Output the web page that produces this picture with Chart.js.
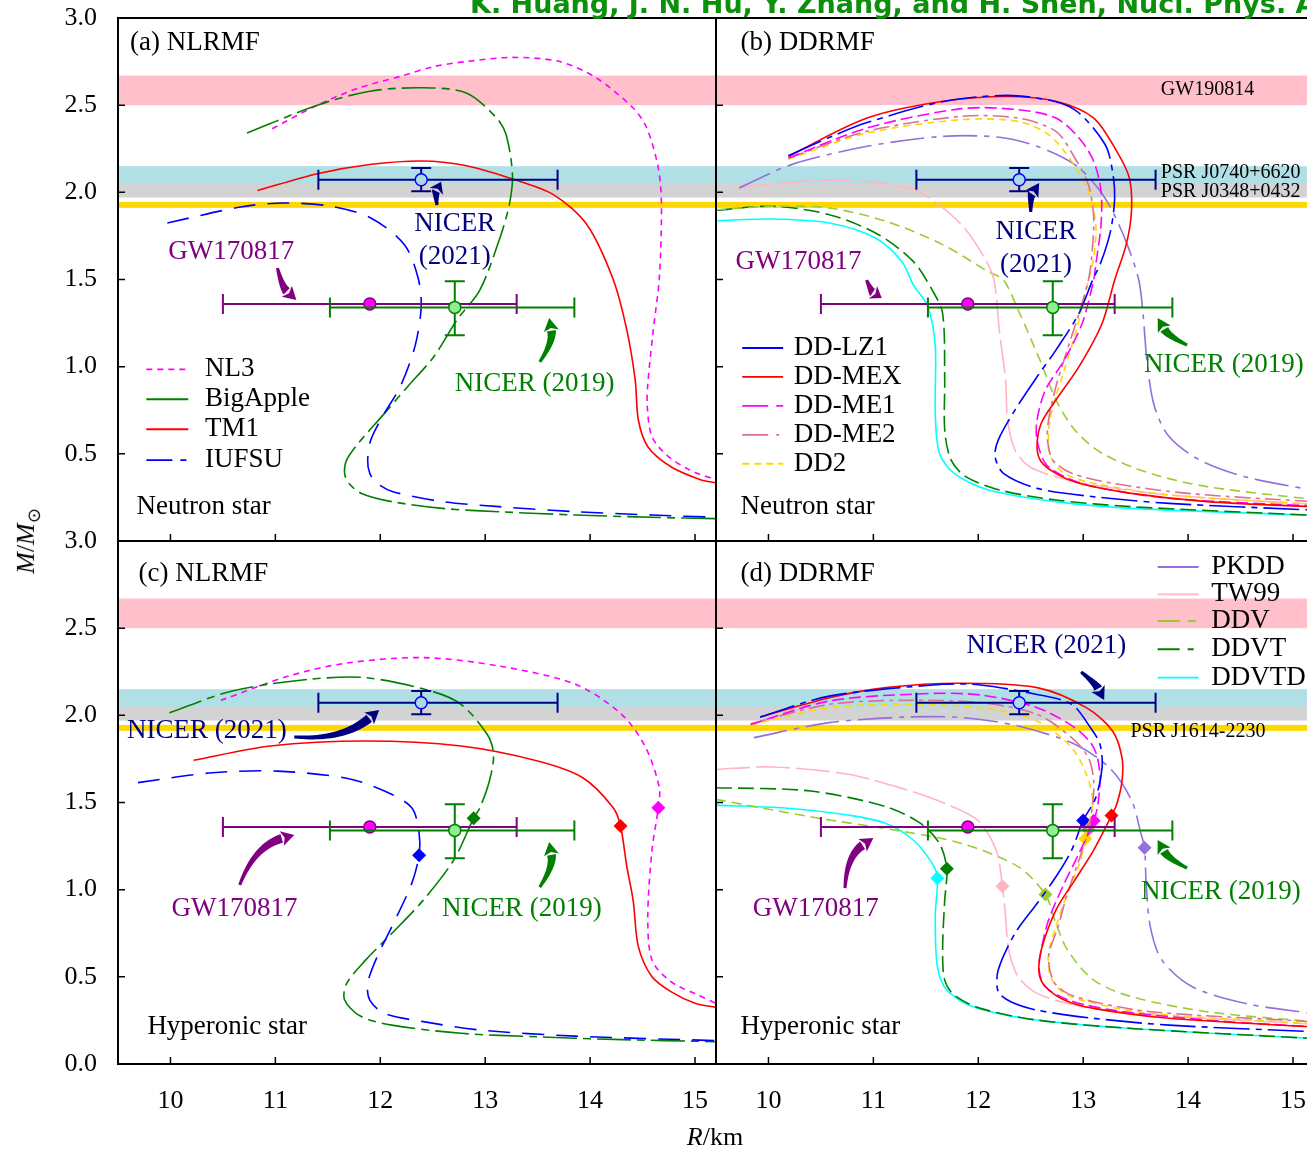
<!DOCTYPE html>
<html>
<head>
<meta charset="utf-8">
<script src="https://cdn.jsdelivr.net/npm/chart.js@4.4.0/dist/chart.umd.min.js"></script>
<style>
  body { margin:0; width:1307px; height:1152px; overflow:hidden; background:#fff; position:relative; }
  canvas { position:absolute; }
  #cA { left:0; top:0; }
  #cB { left:716px; top:0; }
  #cC { left:0; top:520px; }
  #cD { left:716px; top:520px; }
  #ref { position:absolute; left:470px; top:-12px; font:bold 27px 'DejaVu Sans', sans-serif; color:#0a900a; white-space:nowrap; }
  #ylab { position:absolute; left:-22px; top:524px; width:100px; text-align:center; font:26px 'Liberation Serif', serif; transform:rotate(-90deg); white-space:nowrap; }
  #ylab sub { font-size:18px; }
  #xlab { position:absolute; left:665px; top:1122px; width:100px; text-align:center; font:26px 'Liberation Serif', serif; }
</style>
</head>
<body>
<canvas id="cA" width="716" height="541"></canvas>
<canvas id="cB" width="598" height="541"></canvas>
<canvas id="cC" width="716" height="632"></canvas>
<canvas id="cD" width="598" height="632"></canvas>
<div id="ref">K. Huang, J. N. Hu, Y. Zhang, and H. Shen, Nucl. Phys. A</div>
<div id="ylab"><i>M</i>/<i>M</i><sub>⊙</sub></div>
<div id="xlab"><i>R</i>/km</div>
<script>
// axes
const xTickValues = [10, 11, 12, 13, 14, 15];
const yTickValues = [0, 0.5, 1.0, 1.5, 2.0, 2.5, 3.0];

// observational mass bands (M/Msun)
const bandNames = ['GW190814', 'PSR J0740+6620', 'PSR J0348+0432', 'PSR J1614-2230'];
const bandLo = [2.50, 2.01, 1.97, 1.911];
const bandHi = [2.67, 2.15, 2.05, 1.945];

// radius / mass constraints: NICER (2021), NICER (2019), GW170817
const obsR = [12.39, 12.71, 11.9];
const obsRminus = [0.98, 1.19, 1.4];
const obsRplus = [1.30, 1.14, 1.4];
const obsM = [2.072, 1.34, 1.36];
const obsMminus = [0.066, 0.16, 0];
const obsMplus = [0.067, 0.15, 0];

// M-R relations, neutron stars [R (km), M (Msun)]
const nl3NS = [[10.97,2.365],[11.40,2.50],[11.8,2.60],[12.19,2.665],[12.5,2.72],[12.82,2.75],[13.26,2.774],[13.71,2.75],[14.06,2.656],[14.41,2.484],[14.54,2.369],[14.65,2.14],[14.68,1.93],[14.66,1.51],[14.60,1.2],[14.55,0.90],[14.545,0.77],[14.59,0.598],[14.73,0.493],[14.95,0.407],[15.2,0.35]];
const bigAppleNS = [[10.73,2.34],[11.40,2.50],[11.9,2.58],[12.4,2.60],[12.82,2.57],[13.11,2.426],[13.20,2.33],[13.26,2.10],[13.23,1.93],[13.14,1.738],[12.95,1.44],[12.73,1.267],[12.51,1.057],[12.26,0.885],[12.04,0.732],[11.79,0.56],[11.68,0.465],[11.66,0.388],[11.70,0.331],[11.82,0.273],[12.11,0.226],[12.59,0.187],[13.13,0.168],[13.86,0.149],[14.59,0.136],[15.2,0.128]];
const tm1NS = [[10.83,2.01],[11.40,2.107],[11.9,2.16],[12.4,2.18],[12.8,2.155],[13.23,2.082],[13.65,1.987],[13.97,1.814],[14.22,1.50],[14.35,1.21],[14.43,0.923],[14.46,0.694],[14.55,0.541],[14.77,0.426],[15.06,0.35],[15.2,0.334]];
const iufsuNS = [[9.97,1.824],[10.67,1.916],[11.085,1.939],[11.53,1.92],[11.91,1.853],[12.23,1.70],[12.36,1.51],[12.39,1.344],[12.33,1.115],[12.19,0.885],[12.04,0.733],[11.91,0.58],[11.88,0.465],[11.90,0.388],[11.97,0.331],[12.12,0.283],[12.59,0.226],[13.13,0.197],[13.86,0.168],[14.59,0.149],[15.2,0.136]];
const ddlz1NS = [[10.19,2.21],[10.6,2.32],[10.94,2.40],[11.66,2.52],[12.27,2.556],[12.74,2.52],[12.96,2.455],[13.21,2.273],[13.28,2.12],[13.30,1.967],[13.26,1.776],[13.17,1.60],[13.09,1.497],[12.96,1.306],[12.74,1.095],[12.56,0.942],[12.35,0.751],[12.19,0.579],[12.16,0.484],[12.24,0.388],[12.56,0.302],[13.10,0.254],[13.82,0.216],[15.2,0.177]];
const ddmexNS = [[10.19,2.207],[10.94,2.426],[11.66,2.522],[12.27,2.55],[12.74,2.522],[13.10,2.426],[13.32,2.235],[13.44,2.082],[13.46,1.89],[13.41,1.70],[13.30,1.497],[13.18,1.248],[12.96,1.0],[12.74,0.809],[12.60,0.675],[12.56,0.541],[12.60,0.455],[12.74,0.388],[12.96,0.331],[13.46,0.273],[14.18,0.226],[15.2,0.196]];
const ddme1NS = [[10.19,2.197],[10.94,2.369],[11.84,2.48],[12.38,2.474],[12.74,2.426],[12.96,2.312],[13.10,2.178],[13.17,2.006],[13.17,1.815],[13.12,1.585],[13.10,1.497],[12.99,1.248],[12.82,1.038],[12.64,0.866],[12.56,0.694],[12.56,0.58],[12.64,0.445],[12.82,0.369],[13.10,0.312],[13.82,0.245],[15.2,0.2]];
const ddme2NS = [[10.19,2.197],[10.94,2.35],[11.84,2.436],[12.38,2.426],[12.74,2.35],[12.92,2.197],[13.05,2.044],[13.10,1.853],[13.08,1.623],[13.05,1.497],[12.96,1.306],[12.85,1.10],[12.74,0.885],[12.67,0.694],[12.66,0.58],[12.71,0.465],[12.89,0.388],[13.28,0.331],[14.0,0.273],[15.2,0.225]];
const dd2NS = [[10.19,2.19],[10.94,2.34],[11.84,2.417],[12.38,2.407],[12.67,2.331],[12.89,2.178],[13.05,2.006],[13.12,1.815],[13.10,1.623],[13.05,1.497],[12.96,1.267],[12.82,0.98],[12.71,0.77],[12.67,0.617],[12.69,0.484],[12.82,0.388],[13.10,0.331],[13.82,0.264],[15.2,0.21]];
const pkddNS = [[9.72,2.025],[10.22,2.159],[10.94,2.264],[11.66,2.321],[12.20,2.316],[12.56,2.264],[12.92,2.159],[13.14,2.025],[13.28,1.891],[13.42,1.70],[13.53,1.497],[13.57,1.306],[13.61,1.02],[13.68,0.77],[13.82,0.598],[14.11,0.465],[14.54,0.369],[15.2,0.29]];
const tw99NS = [[9.72,2.025],[10.04,2.05],[10.58,2.07],[11.12,2.05],[11.48,1.987],[11.84,1.815],[12.06,1.623],[12.15,1.497],[12.20,1.21],[12.26,0.923],[12.28,0.694],[12.35,0.522],[12.49,0.426],[12.74,0.369],[13.10,0.321],[13.82,0.264],[15.2,0.21]];
const ddvNS = [[9.5,1.90],[10.04,1.92],[10.58,1.91],[11.12,1.834],[11.66,1.70],[12.09,1.547],[12.24,1.497],[12.38,1.325],[12.60,1.02],[12.74,0.809],[12.92,0.637],[13.18,0.503],[13.64,0.388],[14.18,0.312],[15.2,0.238]];
const ddvtNS = [[9.5,1.897],[10.04,1.92],[10.58,1.872],[11.05,1.757],[11.38,1.604],[11.56,1.44],[11.66,1.306],[11.68,0.923],[11.68,0.637],[11.74,0.465],[11.88,0.369],[12.20,0.293],[12.74,0.235],[13.46,0.197],[15.2,0.147]];
const ddvtdNS = [[9.5,1.837],[10.04,1.847],[10.58,1.824],[11.02,1.738],[11.27,1.604],[11.38,1.47],[11.52,1.344],[11.59,1.115],[11.59,0.732],[11.63,0.503],[11.77,0.388],[12.10,0.293],[12.74,0.226],[13.46,0.187],[15.2,0.147]];

// M-R relations, hyperonic stars
const nl3HS = [[10.48,2.086],[11.13,2.226],[11.68,2.30],[12.41,2.331],[13.13,2.283],[13.86,2.178],[14.30,2.006],[14.53,1.815],[14.66,1.585],[14.65,1.47],[14.59,1.227],[14.55,0.845],[14.59,0.596],[14.77,0.472],[15.03,0.395],[15.2,0.348]];
const bigAppleHS = [[9.99,2.015],[10.59,2.14],[11.31,2.206],[11.86,2.216],[12.48,2.14],[12.77,2.063],[13.02,1.89],[13.08,1.776],[13.04,1.623],[12.95,1.47],[12.89,1.41],[12.70,1.17],[12.41,0.94],[12.11,0.749],[11.86,0.596],[11.68,0.462],[11.66,0.367],[11.81,0.275],[12.11,0.223],[12.77,0.176],[13.50,0.156],[14.22,0.141],[15.2,0.128]];
const tm1HS = [[10.22,1.742],[10.95,1.824],[11.86,1.853],[12.77,1.824],[13.50,1.738],[13.93,1.642],[14.22,1.47],[14.29,1.365],[14.35,1.132],[14.41,0.94],[14.46,0.673],[14.59,0.5],[14.77,0.415],[15.0,0.348],[15.2,0.325]];
const iufsuHS = [[9.69,1.614],[10.40,1.671],[11.02,1.68],[11.68,1.639],[12.04,1.566],[12.30,1.47],[12.37,1.323],[12.37,1.198],[12.30,1.036],[12.11,0.787],[11.97,0.615],[11.88,0.462],[11.90,0.367],[12.04,0.29],[12.41,0.243],[12.95,0.195],[13.86,0.16],[15.2,0.134]];
const ddlz1HS = [[9.92,1.99],[10.58,2.11],[11.66,2.178],[12.02,2.174],[12.56,2.12],[12.89,2.063],[13.07,1.929],[13.16,1.834],[13.18,1.70],[13.12,1.528],[13.0,1.397],[12.89,1.227],[12.74,1.074],[12.56,0.921],[12.35,0.749],[12.19,0.539],[12.19,0.415],[12.31,0.357],[12.56,0.309],[13.10,0.262],[13.82,0.223],[15.2,0.185]];
const ddmexHS = [[9.92,1.99],[10.58,2.101],[11.12,2.159],[11.81,2.184],[12.56,2.159],[13.03,2.044],[13.28,1.91],[13.37,1.757],[13.37,1.623],[13.32,1.49],[13.27,1.425],[13.10,1.227],[12.92,1.055],[12.74,0.883],[12.60,0.654],[12.58,0.52],[12.64,0.443],[12.82,0.367],[13.10,0.319],[13.82,0.262],[15.2,0.212]];
const ddme1HS = [[9.83,1.948],[10.58,2.082],[11.48,2.124],[12.02,2.117],[12.56,2.044],[12.92,1.929],[13.10,1.815],[13.16,1.662],[13.14,1.49],[13.1,1.395],[12.96,1.208],[12.82,1.036],[12.67,0.826],[12.60,0.654],[12.58,0.539],[12.64,0.443],[12.86,0.367],[13.28,0.309],[14.18,0.252],[15.2,0.212]];
const ddme2HS = [[9.83,1.952],[10.58,2.063],[11.30,2.086],[12.02,2.073],[12.56,2.006],[12.89,1.872],[13.05,1.757],[13.10,1.623],[13.09,1.49],[13.05,1.345],[12.96,1.17],[12.85,0.979],[12.76,0.787],[12.67,0.615],[12.72,0.472],[12.85,0.405],[13.10,0.357],[13.64,0.3],[15.2,0.242]];
const dd2HS = [[9.83,1.945],[10.58,2.044],[11.30,2.063],[12.02,2.044],[12.56,1.967],[12.89,1.815],[13.03,1.662],[13.09,1.509],[13.02,1.292],[12.97,1.16],[12.85,0.979],[12.74,0.787],[12.67,0.634],[12.69,0.5],[12.82,0.405],[13.10,0.348],[13.64,0.29],[15.2,0.232]];
const pkddHS = [[9.86,1.872],[10.58,1.958],[11.30,1.99],[11.84,1.987],[12.38,1.939],[12.92,1.834],[13.25,1.70],[13.46,1.514],[13.55,1.323],[13.585,1.24],[13.60,1.036],[13.64,0.787],[13.75,0.596],[14.04,0.443],[14.54,0.348],[15.2,0.288]];
const tw99HS = [[9.5,1.69],[10.04,1.704],[10.76,1.662],[11.30,1.576],[11.70,1.49],[11.99,1.4],[12.17,1.227],[12.23,1.02],[12.26,0.845],[12.29,0.654],[12.38,0.501],[12.56,0.405],[12.92,0.338],[13.46,0.29],[15.2,0.228]];
const ddvHS = [[9.5,1.518],[10.40,1.418],[11.30,1.332],[11.84,1.265],[12.38,1.132],[12.64,0.972],[12.74,0.807],[12.85,0.654],[13.10,0.481],[13.46,0.386],[14.18,0.3],[15.2,0.242]];
const ddvtHS = [[9.5,1.585],[10.40,1.566],[11.12,1.476],[11.45,1.38],[11.63,1.265],[11.70,1.12],[11.68,0.94],[11.66,0.654],[11.68,0.481],[11.77,0.395],[12.02,0.319],[12.56,0.252],[13.46,0.204],[15.2,0.146]];
const ddvtdHS = [[9.5,1.485],[10.22,1.466],[10.76,1.428],[11.12,1.38],[11.38,1.285],[11.56,1.151],[11.61,1.066],[11.59,0.845],[11.61,0.558],[11.70,0.424],[11.95,0.329],[12.56,0.252],[13.46,0.204],[15.2,0.146]];

// hyperon onset points
const onsetModels = ['NL3','BigApple','TM1','IUFSU','DD-LZ1','DD-MEX','DD-ME1','DD-ME2','DD2','PKDD','TW99','DDV','DDVT','DDVTD'];
const onsetR = [14.65, 12.89, 14.29, 12.37, 13.0, 13.27, 13.1, 13.05, 13.02, 13.585, 12.23, 12.64, 11.70, 11.61];
const onsetM = [1.47, 1.41, 1.365, 1.198, 1.397, 1.425, 1.395, 1.345, 1.292, 1.24, 1.02, 0.972, 1.12, 1.066];

// line styles per parameter set: [colour, dash]
const lineStyle = {
  'NL3': ['#ff00ff', [6, 5]],
  'BigApple': ['#008000', [34, 6, 8, 6]],
  'TM1': ['#ff0000', []],
  'IUFSU': ['#0000ff', [22, 12]],
  'DD-LZ1': ['#0000ff', [36, 6, 6, 6]],
  'DD-MEX': ['#ff0000', []],
  'DD-ME1': ['#ff00ff', [12, 5]],
  'DD-ME2': ['#db7093', [16, 5, 4, 5]],
  'DD2': ['#ffd700', [7, 5]],
  'PKDD': ['#9370db', [34, 7, 5, 7]],
  'TW99': ['#ffb6c1', [34, 6]],
  'DDV': ['#9acd32', [10, 6]],
  'DDVT': ['#008000', [16, 6]],
  'DDVTD': ['#00ffff', []]
};
const purple = '#800080', navy = '#000080', green = '#008000';
const bandColors = ['#ffc0cb', '#b0e0e6', '#d3d3d3', '#ffd700'];
const obsBar = [navy, green, purple];
const obsFill = ['#add8e6', '#90ee90', '#ff00ff'];
const obsEdge = ['#0000ff', '#008000', '#800080'];
const serif = "'Liberation Serif', 'Times New Roman', serif";

function curve(name, pts) {
  const [c, dash] = lineStyle[name];
  return { label: name, data: pts.map(p => ({ x: p[0], y: p[1] })), showLine: true, borderColor: c,
    borderDash: dash, borderWidth: 1.6, pointRadius: 0, tension: 0.3, fill: false };
}
function onset(name) {
  const i = onsetModels.indexOf(name);
  const c = lineStyle[name][0];
  return { label: name + ' onset', data: [{ x: onsetR[i], y: onsetM[i] }], showLine: false,
    pointStyle: 'rectRot', pointRadius: 7, pointBorderWidth: 0, backgroundColor: c, borderColor: c };
}

function drawArrow(ctx, x0, y0, x1, y1, bend, color) {
  const dx = x1 - x0, dy = y1 - y0, len = Math.hypot(dx, dy);
  const cx = (x0 + x1) / 2 - dy / len * bend * len, cy = (y0 + y1) / 2 + dx / len * bend * len;
  let tx = x1 - cx, ty = y1 - cy; const tl = Math.hypot(tx, ty); tx /= tl; ty /= tl;
  const head = Math.min(13, len * 0.45);
  const hx = x1 - tx * head, hy = y1 - ty * head;
  const left = [], right = [];
  for (let i = 0; i <= 24; i++) {
    const t = i / 24, mt = 1 - t;
    const px = mt * mt * x0 + 2 * mt * t * cx + t * t * hx;
    const py = mt * mt * y0 + 2 * mt * t * cy + t * t * hy;
    const gx = 2 * mt * (cx - x0) + 2 * t * (hx - cx), gy = 2 * mt * (cy - y0) + 2 * t * (hy - cy);
    const gl = Math.hypot(gx, gy) || 1;
    const w = 1.5 + 3 * t;
    left.push([px - gy / gl * w, py + gx / gl * w]);
    right.push([px + gy / gl * w, py - gx / gl * w]);
  }
  ctx.fillStyle = color;
  ctx.beginPath();
  left.forEach((p, i) => i ? ctx.lineTo(p[0], p[1]) : ctx.moveTo(p[0], p[1]));
  right.reverse().forEach(p => ctx.lineTo(p[0], p[1]));
  ctx.closePath(); ctx.fill();
  const hw = 7.5;
  ctx.beginPath();
  ctx.moveTo(x1, y1);
  ctx.lineTo(hx - ty * hw, hy + tx * hw);
  ctx.lineTo(hx + tx * 3, hy + ty * 3);
  ctx.lineTo(hx + ty * hw, hy - tx * hw);
  ctx.closePath(); ctx.fill();
}

const panelDecor = {
  id: 'panelDecor',
  beforeDatasetsDraw(chart) {
    const { ctx, chartArea: a, scales: { y } } = chart;
    ctx.save();
    bandLo.forEach((lo, i) => {
      const top = y.getPixelForValue(bandHi[i]), bot = y.getPixelForValue(lo);
      ctx.fillStyle = bandColors[i];
      ctx.fillRect(a.left, top, a.right - a.left, bot - top);
    });
    ctx.restore();
  },
  afterDatasetsDraw(chart, args, o) {
    const { ctx, chartArea: a, scales: { x, y } } = chart;
    const X = v => x.getPixelForValue(v), Y = v => y.getPixelForValue(v);
    ctx.save();
    // error bars and central values
    [2, 1, 0].forEach(i => {
      const px = X(obsR[i]), py = Y(obsM[i]);
      const xl = X(obsR[i] - obsRminus[i]), xr = X(obsR[i] + obsRplus[i]);
      ctx.strokeStyle = obsBar[i]; ctx.lineWidth = 2;
      ctx.beginPath();
      ctx.moveTo(xl, py); ctx.lineTo(xr, py);
      ctx.moveTo(xl, py - 10); ctx.lineTo(xl, py + 10);
      ctx.moveTo(xr, py - 10); ctx.lineTo(xr, py + 10);
      if (obsMplus[i] > 0) {
        const yt = Y(obsM[i] + obsMplus[i]), yb = Y(obsM[i] - obsMminus[i]);
        ctx.moveTo(px, yt); ctx.lineTo(px, yb);
        ctx.moveTo(px - 10, yt); ctx.lineTo(px + 10, yt);
        ctx.moveTo(px - 10, yb); ctx.lineTo(px + 10, yb);
      }
      ctx.stroke();
      ctx.beginPath(); ctx.arc(px, py, 6, 0, Math.PI * 2);
      ctx.fillStyle = obsFill[i]; ctx.fill();
      ctx.lineWidth = 1.5; ctx.strokeStyle = obsEdge[i]; ctx.stroke();
    });
    // arrows
    (o.arrows || []).forEach(r => drawArrow(ctx, X(r[0]), Y(r[1]), X(r[2]), Y(r[3]), r[4], r[5]));
    // texts
    ctx.textBaseline = 'middle';
    (o.texts || []).forEach(t => {
      ctx.font = (t.s || 27) + 'px ' + serif;
      ctx.fillStyle = t.c || '#000';
      ctx.textAlign = t.a || 'center';
      ctx.fillText(t.t, X(t.x), Y(t.y));
    });
    (o.bandLabels || []).forEach(b => {
      ctx.font = '20px ' + serif; ctx.fillStyle = '#000'; ctx.textAlign = 'left';
      ctx.fillText(bandNames[b.i], X(b.x), Y(b.y));
    });
    // legend
    if (o.legend) {
      const L = o.legend;
      L.models.forEach((m, k) => {
        const [c, dash] = lineStyle[m];
        const yy = Y(L.rows[k]);
        ctx.strokeStyle = c; ctx.lineWidth = 1.8; ctx.setLineDash(L.dash ? L.dash[k] : dash);
        ctx.beginPath(); ctx.moveTo(X(L.x0), yy); ctx.lineTo(X(L.x1), yy); ctx.stroke();
        ctx.setLineDash([]);
        ctx.font = '27px ' + serif; ctx.fillStyle = '#000'; ctx.textAlign = 'left';
        ctx.fillText(m, X(L.xt), yy);
      });
    }
    // inward ticks and frame
    ctx.strokeStyle = '#000'; ctx.lineWidth = 1.5;
    ctx.beginPath();
    xTickValues.forEach(v => { ctx.moveTo(X(v), a.bottom); ctx.lineTo(X(v), a.bottom - 7); });
    yTickValues.forEach(v => { ctx.moveTo(a.left, Y(v)); ctx.lineTo(a.left + 7, Y(v)); });
    ctx.stroke();
    ctx.lineWidth = 2;
    ctx.strokeRect(a.left, a.top, a.right - a.left, a.bottom - a.top);
    ctx.restore();
  }
};

function makePanel(id, cfg) {
  return new Chart(document.getElementById(id), {
    type: 'scatter',
    data: { datasets: cfg.datasets },
    options: {
      responsive: false, animation: false, events: [],
      layout: { autoPadding: false, padding: { top: cfg.padTop, left: 0, right: 0, bottom: 0 } },
      plugins: { legend: { display: false }, tooltip: { enabled: false }, panelDecor: cfg.decor },
      scales: {
        x: {
          type: 'linear', min: 9.5, max: 15.2, display: cfg.showX,
          grid: { display: false, drawTicks: false }, border: { display: false },
          // tick labels pushed down with the line height so they do not eat into the plot width
          ticks: { font: { family: serif, size: 26, lineHeight: 2.85 }, color: '#000', padding: 0, maxRotation: 0 },
          afterBuildTicks: s => { s.ticks = xTickValues.map(v => ({ value: v })); },
          afterFit: s => { if (cfg.showX) { s.height = 88; } s.paddingLeft = 0; s.paddingRight = 0; }
        },
        y: {
          type: 'linear', min: 0, max: 3, display: cfg.showY,
          grid: { display: false, drawTicks: false }, border: { display: false },
          ticks: { font: { family: serif, size: 26 }, color: '#000', padding: 21, callback: v => v.toFixed(1) },
          afterBuildTicks: s => { s.ticks = yTickValues.filter(v => cfg.yZero || v > 0).map(v => ({ value: v })); },
          afterFit: s => { if (cfg.showY) { s.width = 118; } s.paddingTop = 0; s.paddingBottom = 0; }
        }
      }
    },
    plugins: [panelDecor]
  });
}

// (a) NLRMF neutron stars
makePanel('cA', {
  padTop: 18, showX: false, showY: true, yZero: false,
  datasets: [curve('IUFSU', iufsuNS), curve('BigApple', bigAppleNS), curve('TM1', tm1NS), curve('NL3', nl3NS)],
  decor: {
    texts: [
      { t: '(a) NLRMF', x: 9.615, y: 2.857, a: 'left' },
      { t: 'GW170817', x: 10.58, y: 1.658, c: purple },
      { t: 'NICER', x: 12.71, y: 1.818, c: navy },
      { t: '(2021)', x: 12.71, y: 1.629, c: navy },
      { t: 'NICER (2019)', x: 13.47, y: 0.90, c: green },
      { t: 'Neutron star', x: 9.676, y: 0.195, a: 'left' }
    ],
    arrows: [[11.02, 1.566, 11.20, 1.382, 0.15, purple], [12.54, 1.927, 12.58, 2.06, -0.15, navy], [13.52, 1.027, 13.61, 1.279, 0.2, green]],
    legend: { models: ['NL3', 'BigApple', 'TM1', 'IUFSU'], x0: 9.77, x1: 10.17, xt: 10.33, rows: [0.985, 0.813, 0.641, 0.464],
      dash: [[6, 5], [], [], [26, 8, 6, 8]] }
  }
});

// (b) DDRMF neutron stars
makePanel('cB', {
  padTop: 18, showX: false, showY: false,
  datasets: [curve('DD-LZ1', ddlz1NS), curve('DD-MEX', ddmexNS), curve('DD-ME1', ddme1NS), curve('DD-ME2', ddme2NS),
    curve('DD2', dd2NS), curve('PKDD', pkddNS), curve('TW99', tw99NS), curve('DDV', ddvNS), curve('DDVT', ddvtNS), curve('DDVTD', ddvtdNS)],
  decor: {
    texts: [
      { t: '(b) DDRMF', x: 9.733, y: 2.857, a: 'left' },
      { t: 'GW170817', x: 10.286, y: 1.60, c: purple },
      { t: 'NICER', x: 12.55, y: 1.772, c: navy },
      { t: '(2021)', x: 12.55, y: 1.583, c: navy },
      { t: 'NICER (2019)', x: 13.58, y: 1.01, c: green, a: 'left' },
      { t: 'Neutron star', x: 9.733, y: 0.195, a: 'left' }
    ],
    bandLabels: [{ i: 0, x: 13.74, y: 2.587 }, { i: 1, x: 13.74, y: 2.111 }, { i: 2, x: 13.74, y: 2.002 }],
    arrows: [[10.935, 1.497, 11.08, 1.394, 0.15, purple], [12.5, 1.887, 12.58, 2.053, -0.15, navy], [13.99, 1.124, 13.71, 1.279, -0.15, green]],
    legend: { models: ['DD-LZ1', 'DD-MEX', 'DD-ME1', 'DD-ME2', 'DD2'], x0: 9.75, x1: 10.14, xt: 10.24, rows: [1.107, 0.941, 0.775, 0.609, 0.443],
      dash: [[], [], [26, 8, 8, 8], [26, 8, 3, 8], [7, 5]] }
  }
});

// (c) NLRMF hyperonic stars
makePanel('cC', {
  padTop: 21, showX: true, showY: true, yZero: true,
  datasets: [curve('IUFSU', iufsuHS), curve('BigApple', bigAppleHS), curve('TM1', tm1HS), curve('NL3', nl3HS),
    onset('IUFSU'), onset('BigApple'), onset('TM1'), onset('NL3')],
  decor: {
    texts: [
      { t: '(c) NLRMF', x: 9.695, y: 2.81, a: 'left' },
      { t: 'NICER (2021)', x: 9.585, y: 1.91, c: navy, a: 'left' },
      { t: 'GW170817', x: 10.61, y: 0.889, c: purple },
      { t: 'NICER (2019)', x: 13.35, y: 0.889, c: green },
      { t: 'Hyperonic star', x: 9.78, y: 0.212, a: 'left' }
    ],
    arrows: [[11.18, 1.876, 11.99, 2.03, 0.2, navy], [10.66, 1.027, 11.18, 1.314, -0.25, purple], [13.52, 1.015, 13.61, 1.273, 0.2, green]]
  }
});

// (d) DDRMF hyperonic stars
makePanel('cD', {
  padTop: 21, showX: true, showY: false,
  datasets: [curve('DD-LZ1', ddlz1HS), curve('DD-MEX', ddmexHS), curve('DD-ME1', ddme1HS), curve('DD-ME2', ddme2HS),
    curve('DD2', dd2HS), curve('PKDD', pkddHS), curve('TW99', tw99HS), curve('DDV', ddvHS), curve('DDVT', ddvtHS), curve('DDVTD', ddvtdHS),
    onset('TW99'), onset('DDV'), onset('DDVT'), onset('DDVTD'), onset('PKDD'), onset('DD2'), onset('DD-ME2'),
    onset('DD-LZ1'), onset('DD-ME1'), onset('DD-MEX')],
  decor: {
    texts: [
      { t: '(d) DDRMF', x: 9.733, y: 2.81, a: 'left' },
      { t: 'NICER (2021)', x: 12.65, y: 2.398, c: navy },
      { t: 'GW170817', x: 10.45, y: 0.889, c: purple },
      { t: 'NICER (2019)', x: 13.55, y: 0.986, c: green, a: 'left' },
      { t: 'Hyperonic star', x: 9.733, y: 0.212, a: 'left' }
    ],
    bandLabels: [{ i: 3, x: 13.45, y: 1.905 }],
    arrows: [[12.98, 2.249, 13.2, 2.088, -0.1, navy], [10.73, 1.009, 11.0, 1.296, -0.25, purple], [13.99, 1.124, 13.71, 1.285, -0.15, green]],
    legend: { models: ['PKDD', 'TW99', 'DDV', 'DDVT', 'DDVTD'], x0: 13.71, x1: 14.10, xt: 14.22, rows: [2.851, 2.694, 2.541, 2.379, 2.216],
      dash: [[], [], [22, 8, 8, 8], [22, 8, 6, 8], []] }
  }
});
</script>
</body>
</html>
